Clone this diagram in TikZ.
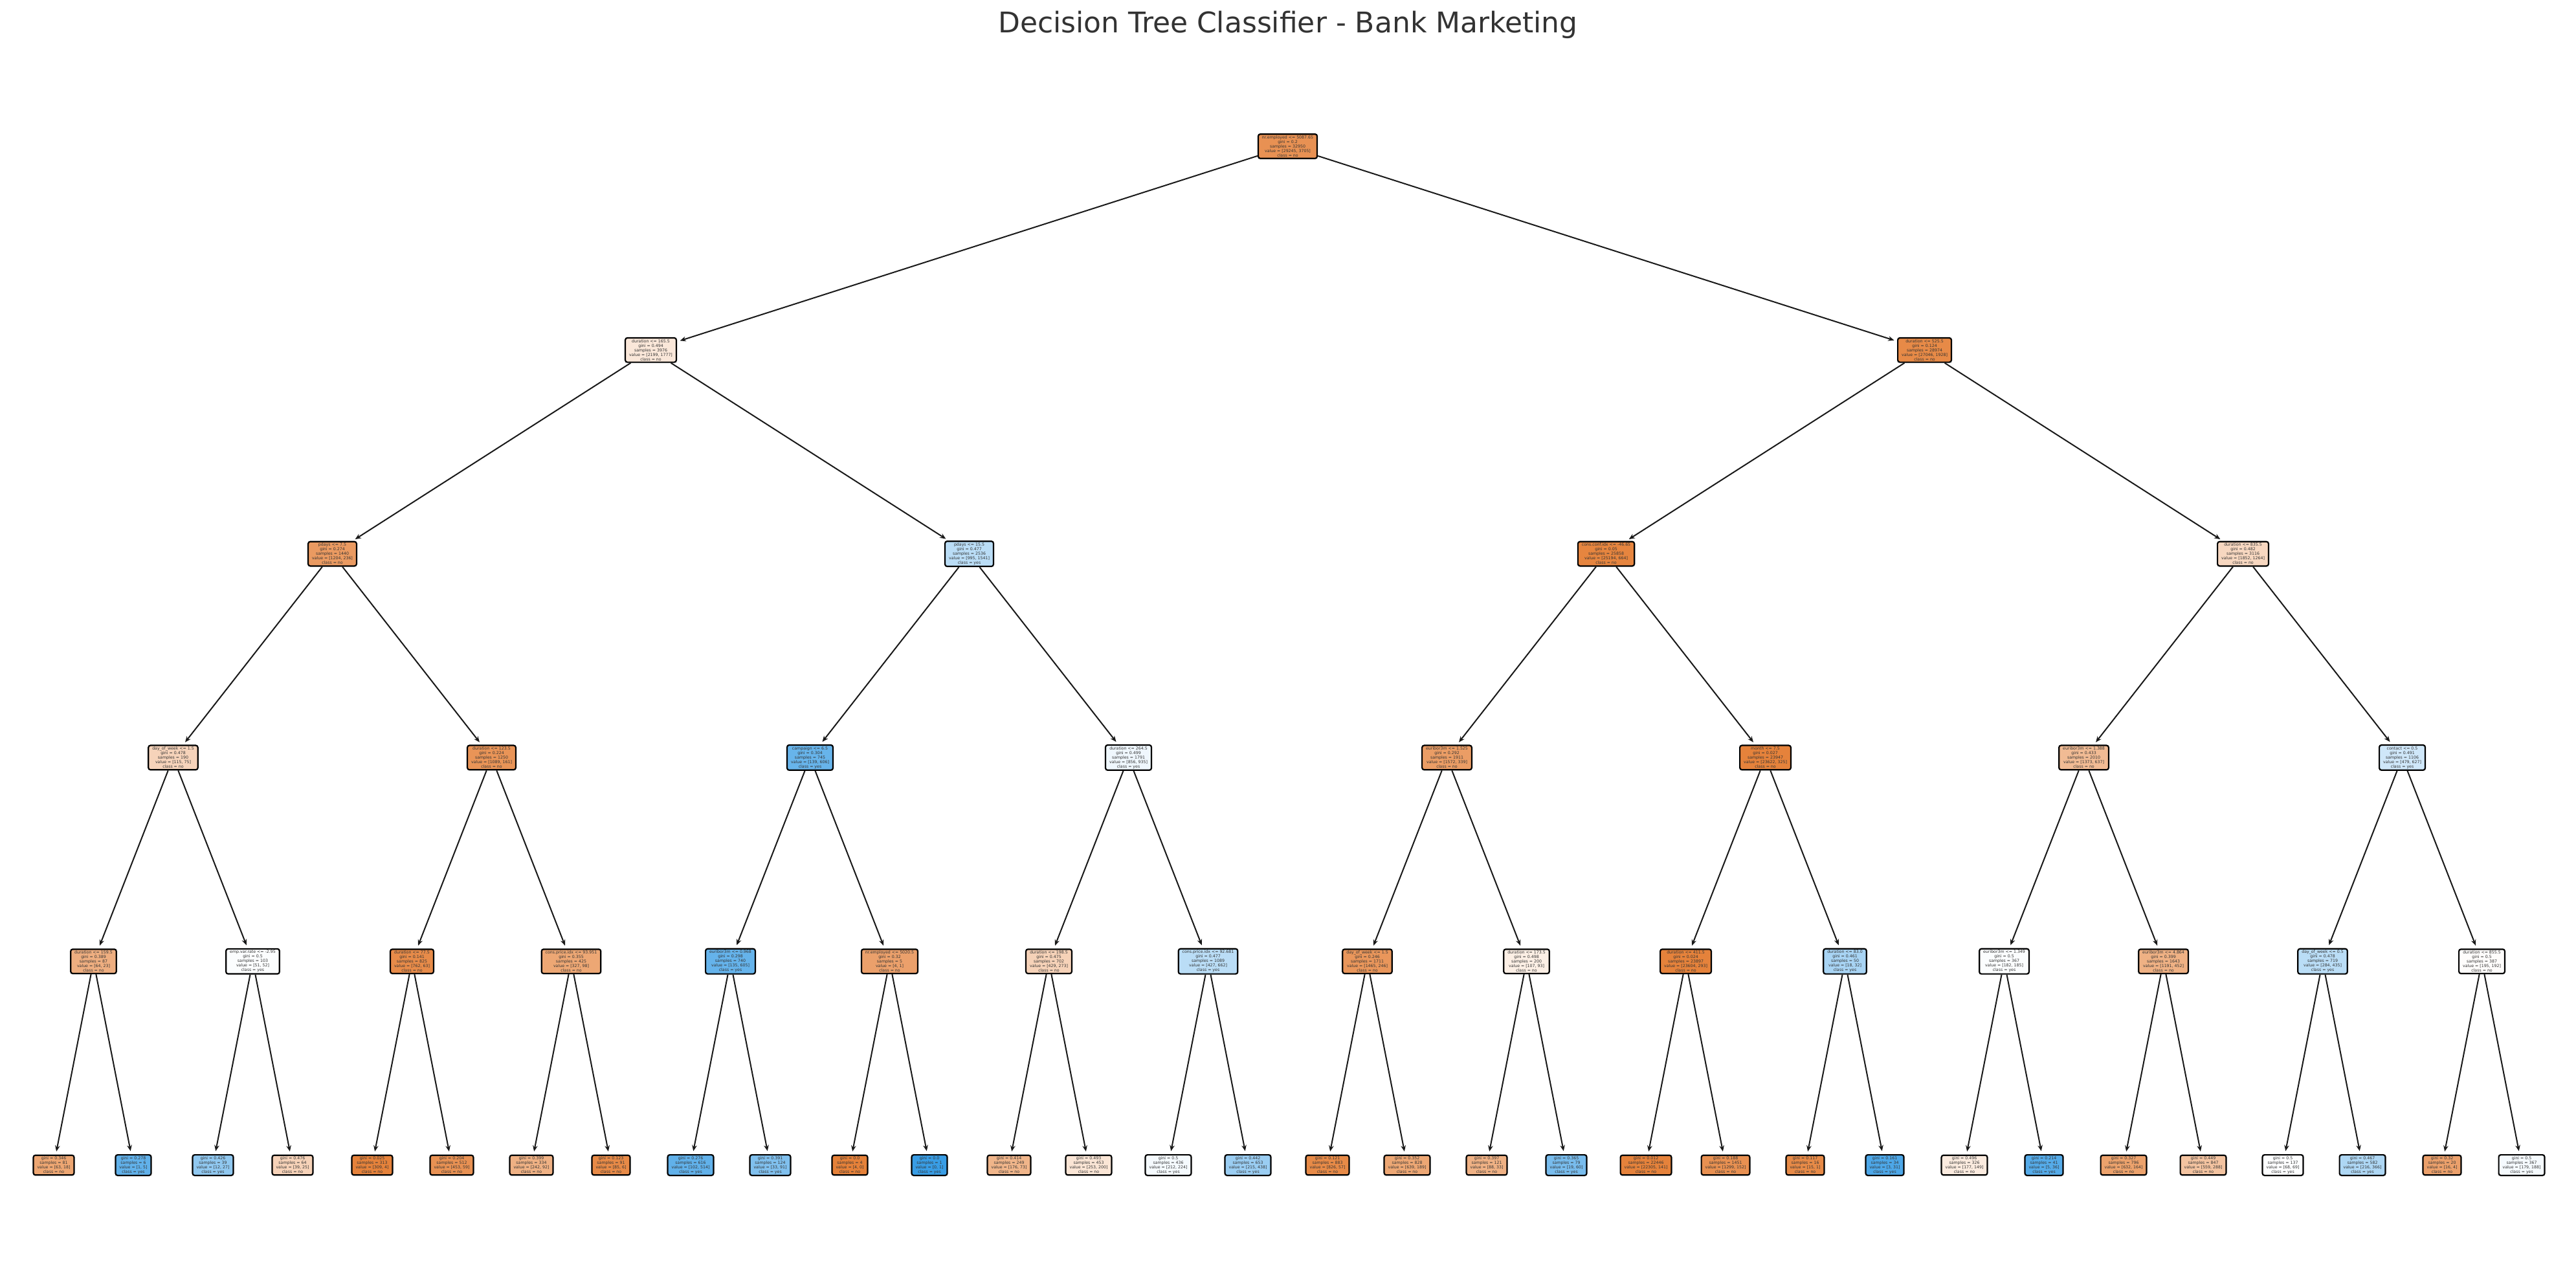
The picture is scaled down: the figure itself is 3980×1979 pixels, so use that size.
\documentclass[tikz,border=0pt]{standalone}
\usepackage{fontspec}
\setmainfont{DejaVu Sans}
\usetikzlibrary{arrows.meta}
\definecolor{clsno}{RGB}{229,129,57}
\definecolor{clsyes}{RGB}{57,157,229}
\definecolor{ink}{RGB}{51,51,51}
\definecolor{edgeink}{RGB}{25,25,25}
\tikzset{
  treebox/.style={draw=black, line width=0.55pt, rounded corners=0.8pt, align=center,
    inner xsep=1.5pt, inner ysep=0.6pt, text=ink, font=\fontsize{1.56pt}{1.75pt}\selectfont},
  treeedge/.style={-{Stealth[length=2.3pt,width=1.9pt]}, line width=0.5pt, draw=edgeink, shorten >=1.2pt},
}
% internal node: level, index, split, gini, a, b
\newcommand\TI[6]{%
  \edef\tnal{\fpeval{round(100*abs(#5-#6)/max(#5,#6),0)}}%
  \ifnum\fpeval{#5>=#6}=1 \def\tncol{clsno}\def\tncls{no}\else\def\tncol{clsyes}\def\tncls{yes}\fi
  \node[treebox, fill=\tncol!\tnal!white] (n-#1-#2) at ({83+123*((#2+0.5)*2^(5-#1)-0.5)}, {226+314.8*#1})
    {#3\\gini = #4\\samples = \fpeval{#5+#6}\\value = [#5, #6]\\class = \tncls};}
% leaf node: level, index, gini, a, b
\newcommand\TL[5]{%
  \edef\tnal{\fpeval{round(100*abs(#4-#5)/max(#4,#5),0)}}%
  \ifnum\fpeval{#4>=#5}=1 \def\tncol{clsno}\def\tncls{no}\else\def\tncol{clsyes}\def\tncls{yes}\fi
  \node[treebox, fill=\tncol!\tnal!white] (n-#1-#2) at ({83+123*((#2+0.5)*2^(5-#1)-0.5)}, {226+314.8*#1})
    {gini = #3\\samples = \fpeval{#4+#5}\\value = [#4, #5]\\class = \tncls};}
\begin{document}
\begin{tikzpicture}[x=0.25pt, y=-0.25pt]
\fill[white] (0,0) rectangle (3980,1979);
\useasboundingbox (0,0) rectangle (3980,1979);
\node[text=ink, font=\fontsize{11pt}{13pt}\selectfont] (title) at (1990,38) {Decision Tree Classifier - Bank Marketing};
% level 0
\TI{0}{0}{nr.employed <= 5087.65}{0.2}{29245}{3705}
% level 1
\TI{1}{0}{duration <= 165.5}{0.494}{2199}{1777}
\TI{1}{1}{duration <= 525.5}{0.124}{27046}{1928}
% level 2
\TI{2}{0}{pdays <= 7.5}{0.274}{1204}{236}
\TI{2}{1}{pdays <= 15.5}{0.477}{995}{1541}
\TI{2}{2}{cons.conf.idx <= -46.65}{0.05}{25194}{664}
\TI{2}{3}{duration <= 835.5}{0.482}{1852}{1264}
% level 3
\TI{3}{0}{day\_of\_week <= 1.5}{0.478}{115}{75}
\TI{3}{1}{duration <= 123.5}{0.224}{1089}{161}
\TI{3}{2}{campaign <= 6.5}{0.304}{139}{606}
\TI{3}{3}{duration <= 264.5}{0.499}{856}{935}
\TI{3}{4}{euribor3m <= 1.525}{0.292}{1572}{339}
\TI{3}{5}{month <= 7.5}{0.027}{23622}{325}
\TI{3}{6}{euribor3m <= 1.388}{0.433}{1373}{637}
\TI{3}{7}{contact <= 0.5}{0.491}{479}{627}
% level 4
\TI{4}{0}{duration <= 159.5}{0.389}{64}{23}
\TI{4}{1}{emp.var.rate <= -2.95}{0.5}{51}{52}
\TI{4}{2}{duration <= 77.5}{0.141}{762}{63}
\TI{4}{3}{cons.price.idx <= 93.951}{0.355}{327}{98}
\TI{4}{4}{euribor3m <= 0.968}{0.298}{135}{605}
\TI{4}{5}{nr.employed <= 5020.5}{0.32}{4}{1}
\TI{4}{6}{duration <= 198.5}{0.475}{429}{273}
\TI{4}{7}{cons.price.idx <= 92.681}{0.477}{427}{662}
\TI{4}{8}{day\_of\_week <= 1.5}{0.246}{1465}{246}
\TI{4}{9}{duration <= 173.5}{0.498}{107}{93}
\TI{4}{10}{duration <= 411.5}{0.024}{23604}{293}
\TI{4}{11}{duration <= 83.0}{0.461}{18}{32}
\TI{4}{12}{euribor3m <= 1.349}{0.5}{182}{185}
\TI{4}{13}{euribor3m <= 4.864}{0.399}{1191}{452}
\TI{4}{14}{day\_of\_week <= 0.5}{0.478}{284}{435}
\TI{4}{15}{duration <= 855.5}{0.5}{195}{192}
% level 5 (leaves)
\TL{5}{0}{0.346}{63}{18}
\TL{5}{1}{0.278}{1}{5}
\TL{5}{2}{0.426}{12}{27}
\TL{5}{3}{0.476}{39}{25}
\TL{5}{4}{0.025}{309}{4}
\TL{5}{5}{0.204}{453}{59}
\TL{5}{6}{0.399}{242}{92}
\TL{5}{7}{0.123}{85}{6}
\TL{5}{8}{0.276}{102}{514}
\TL{5}{9}{0.391}{33}{91}
\TL{5}{10}{0.0}{4}{0}
\TL{5}{11}{0.0}{0}{1}
\TL{5}{12}{0.414}{176}{73}
\TL{5}{13}{0.493}{253}{200}
\TL{5}{14}{0.5}{212}{224}
\TL{5}{15}{0.442}{215}{438}
\TL{5}{16}{0.121}{826}{57}
\TL{5}{17}{0.352}{639}{189}
\TL{5}{18}{0.397}{88}{33}
\TL{5}{19}{0.365}{19}{60}
\TL{5}{20}{0.012}{22305}{141}
\TL{5}{21}{0.188}{1299}{152}
\TL{5}{22}{0.117}{15}{1}
\TL{5}{23}{0.161}{3}{31}
\TL{5}{24}{0.496}{177}{149}
\TL{5}{25}{0.214}{5}{36}
\TL{5}{26}{0.327}{632}{164}
\TL{5}{27}{0.449}{559}{288}
\TL{5}{28}{0.5}{68}{69}
\TL{5}{29}{0.467}{216}{366}
\TL{5}{30}{0.32}{16}{4}
\TL{5}{31}{0.5}{179}{188}
% edges
\foreach \lv in {0,...,4}{
  \pgfmathtruncatemacro\nlv{\lv+1}
  \pgfmathtruncatemacro\last{2^\lv-1}
  \foreach \ix in {0,...,\last}{
    \pgfmathtruncatemacro\cl{2*\ix}
    \pgfmathtruncatemacro\cr{2*\ix+1}
    \draw[treeedge] (n-\lv-\ix) -- (n-\nlv-\cl);
    \draw[treeedge] (n-\lv-\ix) -- (n-\nlv-\cr);
  }
}
\end{tikzpicture}
\end{document}
